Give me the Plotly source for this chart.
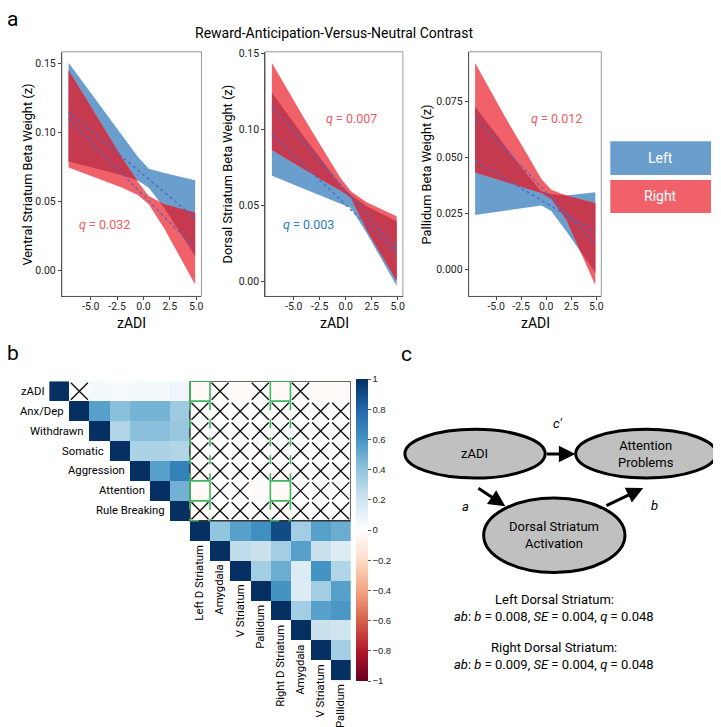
import numpy as np
import plotly.graph_objects as go

# page body adds an 8 px margin; the figure is sized/positioned to compensate
OX, OY = 8, 8
FW, FH = 713, 719
FONT = "Roboto, DejaVu Sans Condensed, sans-serif"

# ---------------- Panel a data ----------------
zadi_pts = [-7.1, -4.0, -2.0, -0.5, 0.5, 2.0, 4.9]
zadi_fit = [-7.1, 4.9]

vs_left_lower = [0.079, 0.073, 0.069, 0.065, 0.060, 0.045, 0.0104]
vs_left_upper = [0.1507, 0.118, 0.097, 0.082, 0.0737, 0.0706, 0.0654]
vs_right_lower = [0.0747, 0.066, 0.060, 0.0545, 0.048, 0.030, -0.0104]
vs_right_upper = [0.1453, 0.1065, 0.0814, 0.064, 0.054, 0.048, 0.042]
vs_left_fit = [0.1149, 0.0379]
vs_right_fit = [0.110, 0.0158]

ds_left_lower = [0.0695, 0.0608, 0.0554, 0.0514, 0.0483, 0.032, -0.003]
ds_left_upper = [0.1243, 0.0951, 0.0772, 0.0634, 0.0571, 0.0495, 0.0396]
ds_right_lower = [0.0866, 0.0737, 0.0656, 0.0598, 0.055, 0.034, 0.0003]
ds_right_upper = [0.1439, 0.1074, 0.0849, 0.068, 0.0593, 0.0521, 0.0429]
ds_left_fit = [0.0969, 0.0183]
ds_right_fit = [0.1153, 0.0216]

pa_left_lower = [0.0242, 0.0262, 0.0275, 0.0285, 0.026, 0.017, -0.0015]
pa_left_upper = [0.0726, 0.0542, 0.0428, 0.0348, 0.0335, 0.033, 0.0344]
pa_right_lower = [0.0432, 0.0389, 0.0363, 0.0341, 0.0314, 0.0222, -0.0071]
pa_right_upper = [0.0921, 0.0672, 0.052, 0.0404, 0.0355, 0.0329, 0.0296]
pa_left_fit = [0.0484, 0.0165]
pa_right_fit = [0.0677, 0.0113]

panel_a_ytitles = ["Ventral Striatum Beta Weight (z)", "Dorsal Striatum Beta Weight (z)",
                   "Pallidum Beta Weight (z)"]
x_tick_vals = [-5, -2.5, 0, 2.5, 5]
x_tick_text = ["-5.0", "-2.5", "0.0", "2.5", "5.0"]
y_tick_vals_1 = [0.0, 0.05, 0.10, 0.15]
y_tick_text_1 = ["0.00", "0.05", "0.10", "0.15"]
y_tick_vals_3 = [0.0, 0.025, 0.05, 0.075]
y_tick_text_3 = ["0.000", "0.025", "0.050", "0.075"]

# ---------------- Panel b data ----------------
corr_labels = ["zADI", "Anx/Dep", "Withdrawn", "Somatic", "Aggression", "Attention",
               "Rule Breaking", "Left D Striatum", "Amygdala", "V Striatum", "Pallidum",
               "Right D Striatum", "Amygdala", "V Striatum", "Pallidum"]
N_ = None
corr = [
    [1, 0.02, 0.05, 0.04, 0.05, 0.05, 0.07, -0.03, -0.01, -0.02, -0.01, -0.03, -0.01, -0.02, -0.02],
    [N_, 1, 0.55, 0.42, 0.47, 0.47, 0.36, 0.01, 0.0, 0.0, 0.01, 0.0, 0.0, -0.01, 0.0],
    [N_, N_, 1, 0.30, 0.42, 0.42, 0.38, 0.0, 0.01, 0.0, 0.0, 0.01, 0.0, 0.0, -0.01],
    [N_, N_, N_, 1, 0.32, 0.32, 0.30, 0.0, 0.0, -0.01, 0.0, 0.0, 0.01, 0.0, 0.0],
    [N_, N_, N_, N_, 1, 0.55, 0.68, -0.01, 0.0, 0.0, 0.0, -0.01, 0.0, 0.0, 0.0],
    [N_, N_, N_, N_, N_, 1, 0.48, -0.03, 0.0, 0.0, -0.02, -0.03, 0.0, 0.0, 0.0],
    [N_, N_, N_, N_, N_, N_, 1, -0.02, 0.0, 0.0, 0.0, -0.02, 0.0, 0.0, 0.0],
    [N_, N_, N_, N_, N_, N_, N_, 1, 0.40, 0.55, 0.62, 0.90, 0.35, 0.55, 0.50],
    [N_, N_, N_, N_, N_, N_, N_, N_, 1, 0.25, 0.22, 0.35, 0.55, 0.22, 0.15],
    [N_, N_, N_, N_, N_, N_, N_, N_, N_, 1, 0.35, 0.50, 0.15, 0.60, 0.30],
    [N_, N_, N_, N_, N_, N_, N_, N_, N_, N_, 1, 0.60, 0.15, 0.35, 0.55],
    [N_, N_, N_, N_, N_, N_, N_, N_, N_, N_, N_, 1, 0.35, 0.55, 0.58],
    [N_, N_, N_, N_, N_, N_, N_, N_, N_, N_, N_, N_, 1, 0.22, 0.20],
    [N_, N_, N_, N_, N_, N_, N_, N_, N_, N_, N_, N_, N_, 1, 0.35],
    [N_, N_, N_, N_, N_, N_, N_, N_, N_, N_, N_, N_, N_, N_, 1],
]
# non-significant cells (row, col), marked with a cross
nonsig_rows = [0, 0, 0, 0] + [1] * 8 + [2] * 8 + [3] * 8 + [4] * 8 + [5] * 5 + [6] * 8
nonsig_cols = ([1, 8, 10, 12] + list(range(7, 15)) * 4 + [8, 9, 12, 13, 14]
               + list(range(7, 15)))
cbar_vals = [-1, -0.8, -0.6, -0.4, -0.2, 0, 0.2, 0.4, 0.6, 0.8, 1]
cbar_text = ["\u22121", "\u22120.8", "\u22120.6", "\u22120.4", "\u22120.2", "0", "0.2", "0.4",
             "0.6", "0.8", "1"]
rdbu = ["#67001F", "#B2182B", "#D6604D", "#F4A582", "#FDDBC7", "#FFFFFF",
        "#D1E5F0", "#92C5DE", "#4393C3", "#2166AC", "#053061"]


# ---------------- helpers ----------------
def PX(x):
    return (x - OX) / FW


def PY(y):
    return 1 - (y - OY) / FH


BLUE = "#6A9FCD"
RED = "#F0616A"
OVER = "#C63A50"
FITC = "#4D67C6"


def overlap_band(xs, l1, u1, l2, u2):
    xs = np.asarray(xs, float)
    lines = [np.asarray(a, float) for a in (l1, u1, l2, u2)]
    bx = list(xs)
    for i in range(len(xs) - 1):
        for a in range(4):
            for b in range(a + 1, 4):
                d0 = lines[a][i] - lines[b][i]
                d1 = lines[a][i + 1] - lines[b][i + 1]
                if d0 * d1 < 0:
                    t = d0 / (d0 - d1)
                    bx.append(xs[i] + t * (xs[i + 1] - xs[i]))
    bx = np.array(sorted(set(bx)))
    ev = [np.interp(bx, xs, a) for a in lines]
    lo = np.maximum(ev[0], ev[2])
    hi = np.minimum(ev[1], ev[3])
    lo = np.minimum(lo, hi)
    return bx, lo, hi


fig = go.Figure()


def add_band(xs, lo, hi, color, xa, ya):
    fig.add_trace(go.Scatter(x=list(xs), y=list(lo), mode="lines", line=dict(width=0),
                             xaxis=xa, yaxis=ya, hoverinfo="skip", showlegend=False))
    fig.add_trace(go.Scatter(x=list(xs), y=list(hi), mode="lines", line=dict(width=0),
                             fill="tonexty", fillcolor=color, xaxis=xa, yaxis=ya,
                             hoverinfo="skip", showlegend=False))


sets = [
    (vs_left_lower, vs_left_upper, vs_right_lower, vs_right_upper, vs_left_fit, vs_right_fit, "x", "y"),
    (ds_left_lower, ds_left_upper, ds_right_lower, ds_right_upper, ds_left_fit, ds_right_fit, "x2", "y2"),
    (pa_left_lower, pa_left_upper, pa_right_lower, pa_right_upper, pa_left_fit, pa_right_fit, "x3", "y3"),
]
for ll, lu, rl, ru, lf, rf, xa, ya in sets:
    add_band(zadi_pts, ll, lu, BLUE, xa, ya)
    add_band(zadi_pts, rl, ru, RED, xa, ya)
    bx, lo, hi = overlap_band(zadi_pts, ll, lu, rl, ru)
    add_band(bx, lo, hi, OVER, xa, ya)
    for f in (lf, rf):
        fig.add_trace(go.Scatter(x=zadi_fit, y=f, mode="lines",
                                 line=dict(color=FITC, width=1.3, dash="dot"),
                                 xaxis=xa, yaxis=ya, hoverinfo="skip", showlegend=False))

# ---------------- heatmap ----------------
cs = [[i / 10, c] for i, c in enumerate(rdbu)]
fig.add_trace(go.Heatmap(
    z=corr, x=list(range(15)), y=list(range(15)), zmin=-1, zmax=1, colorscale=cs,
    xaxis="x4", yaxis="y4", hoverongaps=False, xgap=0, ygap=0,
    colorbar=dict(x=PX(357), xanchor="left", y=PY(529), yanchor="middle", xpad=0, ypad=0,
                  len=302, lenmode="pixels", thickness=12, thicknessmode="pixels",
                  outlinewidth=0, tickvals=cbar_vals, ticktext=cbar_text,
                  ticks="outside", ticklen=3, tickcolor="#555", tickwidth=1,
                  tickfont=dict(family="Liberation Sans, Arial, sans-serif", size=9.5, color="#222")),
))
fig.add_trace(go.Scatter(
    x=nonsig_cols, y=nonsig_rows, mode="markers", xaxis="x4", yaxis="y4",
    marker=dict(symbol="x-thin-open", size=17, color="#111", line=dict(width=1.4, color="#111")),
    hoverinfo="skip", showlegend=False))

axis_common = dict(showgrid=False, zeroline=False, showline=True, linecolor="#555",
                   linewidth=1, ticks="outside", ticklen=3, tickcolor="#444",
                   tickfont=dict(family=FONT, size=10.5, color="#222"))
xr = [-7.74, 5.5]
xstand = dict(ticklabelstandoff=-3)
layout = dict(
    width=FW, height=FH, margin=dict(l=0, r=0, t=0, b=0),
    paper_bgcolor="white", plot_bgcolor="white", showlegend=False,
    xaxis=dict(domain=[PX(62), PX(202)], range=xr, anchor="y", tickvals=x_tick_vals,
               ticktext=x_tick_text, **axis_common, **xstand),
    yaxis=dict(domain=[PY(294), PY(48)], range=[-0.019, 0.1587], anchor="x",
               tickvals=y_tick_vals_1, ticktext=y_tick_text_1, **axis_common),
    xaxis2=dict(domain=[PX(266), PX(404)], range=xr, anchor="y2", tickvals=x_tick_vals,
                ticktext=x_tick_text, **axis_common, **xstand),
    yaxis2=dict(domain=[PY(294), PY(48)], range=[-0.010, 0.1513], anchor="x2",
                tickvals=y_tick_vals_1, ticktext=y_tick_text_1, **axis_common),
    xaxis3=dict(domain=[PX(470), PX(603)], range=xr, anchor="y3", tickvals=x_tick_vals,
                ticktext=x_tick_text, **axis_common, **xstand),
    yaxis3=dict(domain=[PY(294), PY(48)], range=[-0.0121, 0.0971], anchor="x3",
                tickvals=y_tick_vals_3, ticktext=y_tick_text_3, **axis_common),
    xaxis4=dict(domain=[PX(49.3), PX(351.7)], range=[-0.5, 14.5], anchor="y4", visible=False),
    yaxis4=dict(domain=[PY(680), PY(379.3)], range=[14.5, -0.5], anchor="x4", visible=False),
)
fig.update_layout(**layout)

shapes = []
for x0, x1 in [(62, 202), (266, 404), (470, 603)]:
    shapes.append(dict(type="rect", xref="paper", yref="paper", x0=PX(x0), x1=PX(x1),
                       y0=PY(294), y1=PY(48), line=dict(color="#9a9a9a", width=1), layer="below"))
shapes.append(dict(type="rect", xref="paper", yref="paper", x0=PX(612), x1=PX(713),
                   y0=PY(172), y1=PY(138), fillcolor=BLUE, line=dict(width=0)))
shapes.append(dict(type="rect", xref="paper", yref="paper", x0=PX(612), x1=PX(713),
                   y0=PY(210), y1=PY(177), fillcolor=RED, line=dict(width=0)))
shapes.append(dict(type="rect", xref="x4", yref="y4", x0=6.5, x1=14.5, y0=-0.5, y1=6.5,
                   line=dict(color="#333", width=1.5)))
GREEN = "#3DB85C"
for c in (7, 11):
    for r in (0, 5):
        shapes.append(dict(type="rect", xref="x4", yref="y4", x0=c - 0.5, x1=c + 0.5,
                           y0=r - 0.5, y1=r + 0.5, line=dict(color=GREEN, width=1.6)))
    for xv in (c - 0.5, c + 0.5):
        for y0, y1 in ((0.5, 4.5), (5.5, 6.5)):
            shapes.append(dict(type="line", xref="x4", yref="y4", x0=xv, x1=xv, y0=y0, y1=y1,
                               line=dict(color=GREEN, width=1.6, dash="dash")))
    shapes.append(dict(type="line", xref="x4", yref="y4", x0=c - 0.5, x1=c + 0.5, y0=6.5, y1=6.5,
                       line=dict(color=GREEN, width=1.6, dash="dash")))
for x0, x1, y0, y1 in [(406, 546.7, 427.7, 476.7), (577.3, 718.3, 427.7, 476.7),
                       (485, 626.7, 496.7, 571.7)]:
    shapes.append(dict(type="circle", xref="paper", yref="paper", x0=PX(x0), x1=PX(x1),
                       y0=PY(y1), y1=PY(y0), fillcolor="#C0C0C0",
                       line=dict(color="black", width=3)))
fig.update_layout(shapes=shapes)

ann = []


def txt(x, y, s, size=13, color="black", family=FONT, xanchor="center", angle=0):
    ann.append(dict(x=PX(x), y=PY(y), xref="paper", yref="paper", text=s, showarrow=False,
                    xanchor=xanchor, yanchor="middle", textangle=angle,
                    font=dict(family=family, size=size, color=color)))


txt(13, 15, "a", size=21)
txt(13, 351, "b", size=21)
txt(408, 352, "c", size=21)
txt(335, 29, "Reward-Anticipation-Versus-Neutral Contrast", size=14)
for xc, t in zip([27.5, 228, 427.5], panel_a_ytitles):
    txt(xc, 171, t, size=12.8, angle=-90)
for xc in (132, 335, 536.5):
    txt(xc, 321, "zADI", size=14)
txt(105, 222, "<i>q</i> = 0.032", size=12.5, color="#EE5A63")
txt(352, 115, "<i>q</i> = 0.007", size=12.5, color="#EE5A63")
txt(309, 222, "<i>q</i> = 0.003", size=12.5, color="#2C7BBF")
txt(558, 115, "<i>q</i> = 0.012", size=12.5, color="#EE5A63")
txt(662.5, 155, "Left", size=14, color="white")
txt(662.5, 193.5, "Right", size=14, color="white")

for r in range(7):
    ann.append(dict(x=r - 0.5, y=r, xref="x4", yref="y4", text=corr_labels[r], showarrow=False,
                    xanchor="right", yanchor="middle", xshift=-3,
                    font=dict(family=FONT, size=11.3, color="black")))
for c in range(7, 15):
    ann.append(dict(x=c, y=c + 0.5, xref="x4", yref="y4", text=corr_labels[c], showarrow=False,
                    xanchor="center", yanchor="top", textangle=-90, yshift=-2,
                    font=dict(family=FONT, size=11.3, color="black")))

txt(476.3, 452.2, "zADI")
txt(647.8, 452.2, "Attention<br>Problems")
txt(555.8, 534.2, "Dorsal Striatum<br>Activation")
txt(560, 421.7, "<i>c\u2032</i>")
txt(466.7, 505, "<i>a</i>")
txt(656.7, 504, "<i>b</i>")
txt(556, 598.3, "Left Dorsal Striatum:")
txt(556, 616, "<i>ab</i>: <i>b</i> = 0.008, <i>SE</i> = 0.004, <i>q</i> = 0.048")
txt(556, 647.3, "Right Dorsal Striatum:")
txt(556, 664.3, "<i>ab</i>: <i>b</i> = 0.009, <i>SE</i> = 0.004, <i>q</i> = 0.048")

for (hx, hy), (tx, ty) in [((577, 452.5), (547, 452.5)), ((506.7, 505), (478.3, 486)),
                           ((645, 486.7), (606.7, 505))]:
    ann.append(dict(x=PX(hx), y=PY(hy), xref="paper", yref="paper", text="", showarrow=True,
                    ax=tx - hx, ay=ty - hy, arrowhead=2, arrowsize=1.1, arrowwidth=3,
                    arrowcolor="black", standoff=0))
fig.update_layout(annotations=ann)

fig.write_html("out.html")
